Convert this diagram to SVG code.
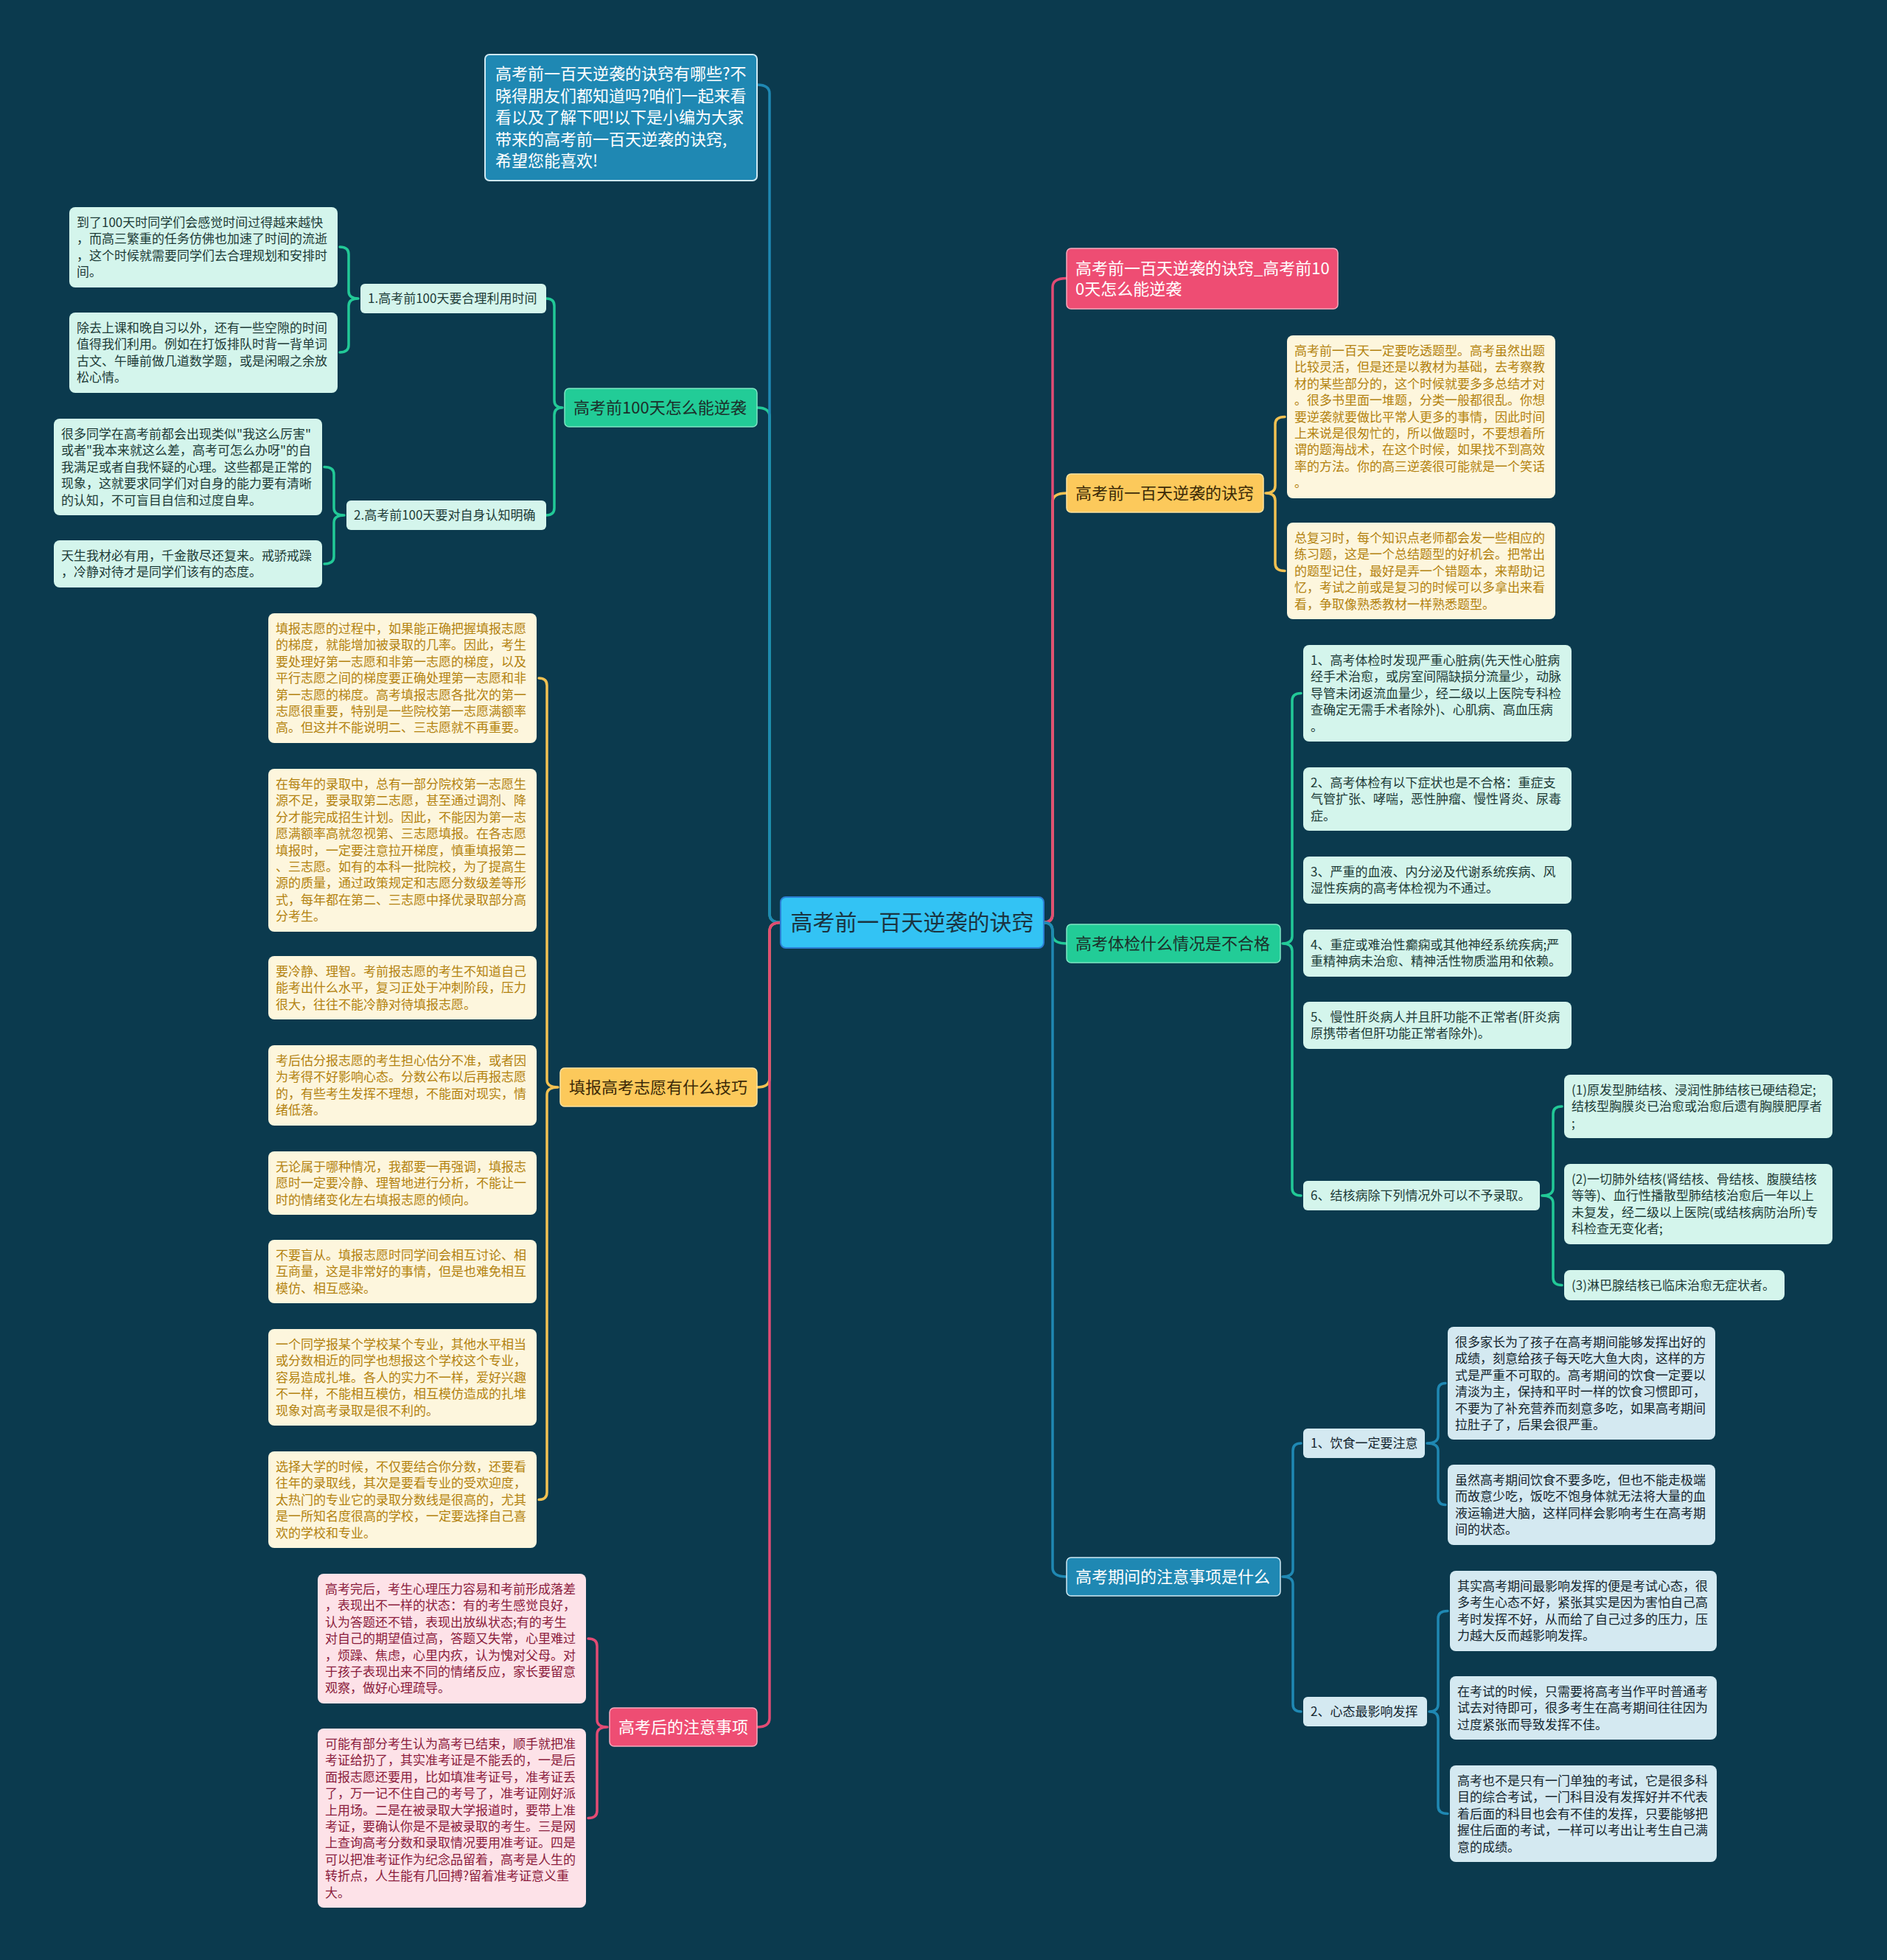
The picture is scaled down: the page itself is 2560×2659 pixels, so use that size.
<svg xmlns="http://www.w3.org/2000/svg" width="2560" height="2659" viewBox="0 0 2560 2659">
<style>
text{font-family:"Noto Sans CJK SC","Liberation Sans",sans-serif;}
.f17{font-size:17px}
.f22{font-size:22px}
.f30{font-size:30px}
.lg{fill:#d4f5ec}
.lo{fill:#fdf6dd}
.lp{fill:#fde2e8}
.lb{fill:#d4e9f1}
.tg{fill:#1d3b37}
.to{fill:#b3820f}
.tp{fill:#8b1c3c}
.tb{fill:#15262f}
.tw{fill:#ffffff}
.td{fill:#1c2f2a}
.c{fill:none;stroke-width:3.5;stroke-linecap:round;stroke-linejoin:round}
.cb{stroke:#1f88b3}
.cg{stroke:#22c997}
.cy{stroke:#f2c152}
.cp{stroke:#e24b74}
</style>
<rect x="0" y="0" width="2560" height="2659" fill="#0b3a4e"/>

<g id="connectors">
<path class="c cg" d="M1059,1251.5 Q1044,1251.5 1044,1239.5 L1044,565 Q1044,553 1027,553"/>
<path class="c cy" d="M1059,1251.5 Q1044,1251.5 1044,1263.5 L1044,1463 Q1044,1475 1027,1475"/>
<path class="c cb" d="M1059,1251.5 Q1044,1251.5 1044,1239.5 L1044,127 Q1044,115 1027,115"/>
<path class="c cp" d="M1059,1251.5 Q1044,1251.5 1044,1263.5 L1044,2331 Q1044,2343 1027,2343"/>
<path class="c cy" d="M1416,1251.5 Q1428,1251.5 1428,1239.5 L1428,681 Q1428,669 1447,669"/>
<path class="c cg" d="M1416,1251.5 Q1428,1251.5 1428,1263.5 L1428,1268 Q1428,1280 1447,1280"/>
<path class="c cp" d="M1416,1251.5 Q1428,1251.5 1428,1239.5 L1428,389.5 Q1428,377.5 1447,377.5"/>
<path class="c cb" d="M1416,1251.5 Q1428,1251.5 1428,1263.5 L1428,2127 Q1428,2139 1447,2139"/>
<path class="c cg" d="M741,405 Q752,405 752,415 L752,543 Q752,553 763,553 Q752,553 752,563 L752,689 Q752,699 741,699"/>
<path class="c cg" d="M461,335 Q473,335 473,345 L473,395 Q473,405 486,405 Q473,405 473,415 L473,468 Q473,478 461,478"/>
<path class="c cg" d="M440,633.5 Q453,633.5 453,643.5 L453,689 Q453,699 467,699 Q453,699 453,709 L453,755 Q453,765 440,765"/>
<path class="c cy" d="M731,920 Q742,920 742,930 L742,1465 Q742,1475 757,1475 Q742,1475 742,1485 L742,2024.5 Q742,2034.5 731,2034.5"/>
<path class="c cp" d="M798,2223 Q810,2223 810,2233 L810,2333 Q810,2343 824,2343 Q810,2343 810,2353 L810,2456.5 Q810,2466.5 798,2466.5"/>
<path class="c cy" d="M1743,565.5 Q1730,565.5 1730,575.5 L1730,659 Q1730,669 1717,669 Q1730,669 1730,679 L1730,764.5 Q1730,774.5 1743,774.5"/>
<path class="c cg" d="M1765,940.5 Q1753,940.5 1753,950.5 L1753,1270 Q1753,1280 1740,1280 Q1753,1280 1753,1290 L1753,1612 Q1753,1622 1765,1622"/>
<path class="c cg" d="M2119,1501 Q2107,1501 2107,1511 L2107,1612 Q2107,1622 2092,1622 Q2107,1622 2107,1632 L2107,1733.5 Q2107,1743.5 2119,1743.5"/>
<path class="c cb" d="M1765,1958 Q1754,1958 1754,1968 L1754,2129 Q1754,2139 1740,2139 Q1754,2139 1754,2149 L1754,2312 Q1754,2322 1765,2322"/>
<path class="c cb" d="M1961,1876.5 Q1951,1876.5 1951,1886.5 L1951,1948 Q1951,1958 1936,1958 Q1951,1958 1951,1968 L1951,2031.5 Q1951,2041.5 1961,2041.5"/>
<path class="c cb" d="M1964,2185.5 Q1951,2185.5 1951,2195.5 L1951,2312 Q1951,2322 1939,2322 Q1951,2322 1951,2332 L1951,2450.5 Q1951,2460.5 1964,2460.5"/>
</g>

<g id="center">
<rect x="1059" y="1217" width="357" height="69" rx="7" fill="#33c3f4" stroke="#2b7fd4" stroke-width="2"/>
<text class="f30" x="1237.5" y="1262" text-anchor="middle" fill="#1b3441">高考前一百天逆袭的诀窍</text>
</g>

<g id="intro">
<rect x="658" y="74" width="369" height="171" rx="6" fill="#1f88b3" stroke="#cfe9f3" stroke-width="2"/>
<text class="f22 tw"><tspan x="672" y="108">高考前一百天逆袭的诀窍有哪些?不</tspan><tspan x="672" y="138">晓得朋友们都知道吗?咱们一起来看</tspan><tspan x="672" y="167">看以及了解下吧!以下是小编为大家</tspan><tspan x="672" y="197">带来的高考前一百天逆袭的诀窍,</tspan><tspan x="672" y="226">希望您能喜欢!</tspan></text>
</g>

<g id="b-left-green">
<rect x="766" y="527" width="261" height="52" rx="6" fill="#22cc97" stroke="#7ee6c4" stroke-width="1.5"/>
<text class="f22 td" x="778" y="561">高考前100天怎么能逆袭</text>
</g>
<g id="g-sub1">
<rect x="489" y="385" width="252" height="40" rx="6" class="lg"/>
<text class="f17 tg" x="499" y="411">1.高考前100天要合理利用时间</text>
</g>
<g id="g-sub2">
<rect x="470" y="679" width="271" height="40" rx="6" class="lg"/>
<text class="f17 tg" x="480" y="705">2.高考前100天要对自身认知明确</text>
</g>
<g id="gl1">
<rect x="94" y="281" width="364" height="109" rx="8" class="lg"/>
<text class="f17 tg"><tspan x="104" y="308">到了100天时同学们会感觉时间过得越来越快</tspan><tspan x="104" y="330.4">，而高三繁重的任务仿佛也加速了时间的流逝</tspan><tspan x="104" y="352.8">，这个时候就需要同学们去合理规划和安排时</tspan><tspan x="104" y="375.2">间。</tspan></text>
</g>
<g id="gl2">
<rect x="94" y="424" width="364" height="109" rx="8" class="lg"/>
<text class="f17 tg"><tspan x="104" y="451">除去上课和晚自习以外，还有一些空隙的时间</tspan><tspan x="104" y="473.4">值得我们利用。例如在打饭排队时背一背单词</tspan><tspan x="104" y="495.8">古文、午睡前做几道数学题，或是闲暇之余放</tspan><tspan x="104" y="518.2">松心情。</tspan></text>
</g>
<g id="gl3">
<rect x="73" y="568" width="364" height="131" rx="8" class="lg"/>
<text class="f17 tg"><tspan x="83" y="595">很多同学在高考前都会出现类似"我这么厉害"</tspan><tspan x="83" y="617.4">或者"我本来就这么差，高考可怎么办呀"的自</tspan><tspan x="83" y="639.8">我满足或者自我怀疑的心理。这些都是正常的</tspan><tspan x="83" y="662.2">现象，这就要求同学们对自身的能力要有清晰</tspan><tspan x="83" y="684.6">的认知，不可盲目自信和过度自卑。</tspan></text>
</g>
<g id="gl4">
<rect x="73" y="733" width="364" height="64" rx="8" class="lg"/>
<text class="f17 tg"><tspan x="83" y="760">天生我材必有用，千金散尽还复来。戒骄戒躁</tspan><tspan x="83" y="782.4">，冷静对待才是同学们该有的态度。</tspan></text>
</g>

<g id="b-left-yellow">
<rect x="760" y="1449" width="267" height="52" rx="6" fill="#fcc95b" stroke="#ffe3a0" stroke-width="1.5"/>
<text class="f22" x="772" y="1483" fill="#3b2a07">填报高考志愿有什么技巧</text>
</g>
<g id="o1">
<rect x="364" y="832" width="364" height="176" rx="8" class="lo"/>
<text class="f17 to"><tspan x="374" y="859">填报志愿的过程中，如果能正确把握填报志愿</tspan><tspan x="374" y="881.4">的梯度，就能增加被录取的几率。因此，考生</tspan><tspan x="374" y="903.8">要处理好第一志愿和非第一志愿的梯度，以及</tspan><tspan x="374" y="926.2">平行志愿之间的梯度要正确处理第一志愿和非</tspan><tspan x="374" y="948.6">第一志愿的梯度。高考填报志愿各批次的第一</tspan><tspan x="374" y="971">志愿很重要，特别是一些院校第一志愿满额率</tspan><tspan x="374" y="993.4">高。但这并不能说明二、三志愿就不再重要。</tspan></text>
</g>
<g id="o2">
<rect x="364" y="1043" width="364" height="221" rx="8" class="lo"/>
<text class="f17 to"><tspan x="374" y="1070">在每年的录取中，总有一部分院校第一志愿生</tspan><tspan x="374" y="1092.4">源不足，要录取第二志愿，甚至通过调剂、降</tspan><tspan x="374" y="1114.8">分才能完成招生计划。因此，不能因为第一志</tspan><tspan x="374" y="1137.2">愿满额率高就忽视第、三志愿填报。在各志愿</tspan><tspan x="374" y="1159.6">填报时，一定要注意拉开梯度，慎重填报第二</tspan><tspan x="374" y="1182">、三志愿。如有的本科一批院校，为了提高生</tspan><tspan x="374" y="1204.4">源的质量，通过政策规定和志愿分数级差等形</tspan><tspan x="374" y="1226.8">式，每年都在第二、三志愿中择优录取部分高</tspan><tspan x="374" y="1249.2">分考生。</tspan></text>
</g>
<g id="o3">
<rect x="364" y="1297" width="364" height="86" rx="8" class="lo"/>
<text class="f17 to"><tspan x="374" y="1324">要冷静、理智。考前报志愿的考生不知道自己</tspan><tspan x="374" y="1346.4">能考出什么水平，复习正处于冲刺阶段，压力</tspan><tspan x="374" y="1368.8">很大，往往不能冷静对待填报志愿。</tspan></text>
</g>
<g id="o4">
<rect x="364" y="1418" width="364" height="109" rx="8" class="lo"/>
<text class="f17 to"><tspan x="374" y="1445">考后估分报志愿的考生担心估分不准，或者因</tspan><tspan x="374" y="1467.4">为考得不好影响心态。分数公布以后再报志愿</tspan><tspan x="374" y="1489.8">的，有些考生发挥不理想，不能面对现实，情</tspan><tspan x="374" y="1512.2">绪低落。</tspan></text>
</g>
<g id="o5">
<rect x="364" y="1562" width="364" height="86" rx="8" class="lo"/>
<text class="f17 to"><tspan x="374" y="1589">无论属于哪种情况，我都要一再强调，填报志</tspan><tspan x="374" y="1611.4">愿时一定要冷静、理智地进行分析，不能让一</tspan><tspan x="374" y="1633.8">时的情绪变化左右填报志愿的倾向。</tspan></text>
</g>
<g id="o6">
<rect x="364" y="1682" width="364" height="86" rx="8" class="lo"/>
<text class="f17 to"><tspan x="374" y="1709">不要盲从。填报志愿时同学间会相互讨论、相</tspan><tspan x="374" y="1731.4">互商量，这是非常好的事情，但是也难免相互</tspan><tspan x="374" y="1753.8">模仿、相互感染。</tspan></text>
</g>
<g id="o7">
<rect x="364" y="1803" width="364" height="131" rx="8" class="lo"/>
<text class="f17 to"><tspan x="374" y="1830">一个同学报某个学校某个专业，其他水平相当</tspan><tspan x="374" y="1852.4">或分数相近的同学也想报这个学校这个专业，</tspan><tspan x="374" y="1874.8">容易造成扎堆。各人的实力不一样，爱好兴趣</tspan><tspan x="374" y="1897.2">不一样，不能相互模仿，相互模仿造成的扎堆</tspan><tspan x="374" y="1919.6">现象对高考录取是很不利的。</tspan></text>
</g>
<g id="o8">
<rect x="364" y="1969" width="364" height="131" rx="8" class="lo"/>
<text class="f17 to"><tspan x="374" y="1996">选择大学的时候，不仅要结合你分数，还要看</tspan><tspan x="374" y="2018.4">往年的录取线，其次是要看专业的受欢迎度，</tspan><tspan x="374" y="2040.8">太热门的专业它的录取分数线是很高的，尤其</tspan><tspan x="374" y="2063.2">是一所知名度很高的学校，一定要选择自己喜</tspan><tspan x="374" y="2085.6">欢的学校和专业。</tspan></text>
</g>

<g id="b-left-pink">
<rect x="827" y="2317" width="200" height="52" rx="6" fill="#ee4d73" stroke="#f7a9bd" stroke-width="1.5"/>
<text class="f22 tw" x="839" y="2351">高考后的注意事项</text>
</g>
<g id="p1">
<rect x="431" y="2135" width="364" height="176" rx="8" class="lp"/>
<text class="f17 tp"><tspan x="441" y="2162">高考完后，考生心理压力容易和考前形成落差</tspan><tspan x="441" y="2184.4">，表现出不一样的状态：有的考生感觉良好，</tspan><tspan x="441" y="2206.8">认为答题还不错，表现出放纵状态;有的考生</tspan><tspan x="441" y="2229.2">对自己的期望值过高，答题又失常，心里难过</tspan><tspan x="441" y="2251.6">，烦躁、焦虑，心里内疚，认为愧对父母。对</tspan><tspan x="441" y="2274">于孩子表现出来不同的情绪反应，家长要留意</tspan><tspan x="441" y="2296.4">观察，做好心理疏导。</tspan></text>
</g>
<g id="p2">
<rect x="431" y="2345" width="364" height="243" rx="8" class="lp"/>
<text class="f17 tp"><tspan x="441" y="2372">可能有部分考生认为高考已结束，顺手就把准</tspan><tspan x="441" y="2394.4">考证给扔了，其实准考证是不能丢的，一是后</tspan><tspan x="441" y="2416.8">面报志愿还要用，比如填准考证号，准考证丢</tspan><tspan x="441" y="2439.2">了，万一记不住自己的考号了，准考证刚好派</tspan><tspan x="441" y="2461.6">上用场。二是在被录取大学报道时，要带上准</tspan><tspan x="441" y="2484">考证，要确认你是不是被录取的考生。三是网</tspan><tspan x="441" y="2506.4">上查询高考分数和录取情况要用准考证。四是</tspan><tspan x="441" y="2528.8">可以把准考证作为纪念品留着，高考是人生的</tspan><tspan x="441" y="2551.2">转折点，人生能有几回搏?留着准考证意义重</tspan><tspan x="441" y="2573.6">大。</tspan></text>
</g>

<g id="b-right-pink">
<rect x="1447" y="337" width="368" height="82" rx="6" fill="#ee4d73" stroke="#f7a9bd" stroke-width="1.5"/>
<text class="f22 tw"><tspan x="1459" y="372">高考前一百天逆袭的诀窍_高考前10</tspan><tspan x="1459" y="400">0天怎么能逆袭</tspan></text>
</g>

<g id="b-right-yellow">
<rect x="1447" y="643" width="267" height="52" rx="6" fill="#fcc95b" stroke="#ffe3a0" stroke-width="1.5"/>
<text class="f22" x="1459" y="677" fill="#3b2a07">高考前一百天逆袭的诀窍</text>
</g>
<g id="y1">
<rect x="1746" y="455" width="364" height="221" rx="8" class="lo"/>
<text class="f17 to"><tspan x="1756" y="482">高考前一百天一定要吃透题型。高考虽然出题</tspan><tspan x="1756" y="504.4">比较灵活，但是还是以教材为基础，去考察教</tspan><tspan x="1756" y="526.8">材的某些部分的，这个时候就要多多总结才对</tspan><tspan x="1756" y="549.2">。很多书里面一堆题，分类一般都很乱。你想</tspan><tspan x="1756" y="571.6">要逆袭就要做比平常人更多的事情，因此时间</tspan><tspan x="1756" y="594">上来说是很匆忙的，所以做题时，不要想着所</tspan><tspan x="1756" y="616.4">谓的题海战术，在这个时候，如果找不到高效</tspan><tspan x="1756" y="638.8">率的方法。你的高三逆袭很可能就是一个笑话</tspan><tspan x="1756" y="661.2">。</tspan></text>
</g>
<g id="y2">
<rect x="1746" y="709" width="364" height="131" rx="8" class="lo"/>
<text class="f17 to"><tspan x="1756" y="736">总复习时，每个知识点老师都会发一些相应的</tspan><tspan x="1756" y="758.4">练习题，这是一个总结题型的好机会。把常出</tspan><tspan x="1756" y="780.8">的题型记住，最好是弄一个错题本，来帮助记</tspan><tspan x="1756" y="803.2">忆，考试之前或是复习的时候可以多拿出来看</tspan><tspan x="1756" y="825.6">看，争取像熟悉教材一样熟悉题型。</tspan></text>
</g>

<g id="b-right-green">
<rect x="1447" y="1254" width="290" height="52" rx="6" fill="#22cc97" stroke="#7ee6c4" stroke-width="1.5"/>
<text class="f22 td" x="1459" y="1288">高考体检什么情况是不合格</text>
</g>
<g id="g1">
<rect x="1768" y="875" width="364" height="131" rx="8" class="lg"/>
<text class="f17 tg"><tspan x="1778" y="902">1、高考体检时发现严重心脏病(先天性心脏病</tspan><tspan x="1778" y="924.4">经手术治愈，或房室间隔缺损分流量少，动脉</tspan><tspan x="1778" y="946.8">导管未闭返流血量少，经二级以上医院专科检</tspan><tspan x="1778" y="969.2">查确定无需手术者除外)、心肌病、高血压病</tspan><tspan x="1778" y="991.6">。</tspan></text>
</g>
<g id="g2">
<rect x="1768" y="1041" width="364" height="86" rx="8" class="lg"/>
<text class="f17 tg"><tspan x="1778" y="1068">2、高考体检有以下症状也是不合格：重症支</tspan><tspan x="1778" y="1090.4">气管扩张、哮喘，恶性肿瘤、慢性肾炎、尿毒</tspan><tspan x="1778" y="1112.8">症。</tspan></text>
</g>
<g id="g3">
<rect x="1768" y="1162" width="364" height="64" rx="8" class="lg"/>
<text class="f17 tg"><tspan x="1778" y="1189">3、严重的血液、内分泌及代谢系统疾病、风</tspan><tspan x="1778" y="1211.4">湿性疾病的高考体检视为不通过。</tspan></text>
</g>
<g id="g4">
<rect x="1768" y="1261" width="364" height="64" rx="8" class="lg"/>
<text class="f17 tg"><tspan x="1778" y="1288">4、重症或难治性癫痫或其他神经系统疾病;严</tspan><tspan x="1778" y="1310.4">重精神病未治愈、精神活性物质滥用和依赖。</tspan></text>
</g>
<g id="g5">
<rect x="1768" y="1359" width="364" height="64" rx="8" class="lg"/>
<text class="f17 tg"><tspan x="1778" y="1386">5、慢性肝炎病人并且肝功能不正常者(肝炎病</tspan><tspan x="1778" y="1408.4">原携带者但肝功能正常者除外)。</tspan></text>
</g>
<g id="g6">
<rect x="1768" y="1602" width="321" height="40" rx="6" class="lg"/>
<text class="f17 tg" x="1778" y="1628">6、结核病除下列情况外可以不予录取。</text>
</g>
<g id="s1">
<rect x="2122" y="1458" width="364" height="86" rx="8" class="lg"/>
<text class="f17 tg"><tspan x="2132" y="1485">(1)原发型肺结核、浸润性肺结核已硬结稳定;</tspan><tspan x="2132" y="1507.4">结核型胸膜炎已治愈或治愈后遗有胸膜肥厚者</tspan><tspan x="2132" y="1529.8">;</tspan></text>
</g>
<g id="s2">
<rect x="2122" y="1579" width="364" height="109" rx="8" class="lg"/>
<text class="f17 tg"><tspan x="2132" y="1606">(2)一切肺外结核(肾结核、骨结核、腹膜结核</tspan><tspan x="2132" y="1628.4">等等)、血行性播散型肺结核治愈后一年以上</tspan><tspan x="2132" y="1650.8">未复发，经二级以上医院(或结核病防治所)专</tspan><tspan x="2132" y="1673.2">科检查无变化者;</tspan></text>
</g>
<g id="s3">
<rect x="2122" y="1723" width="299" height="41" rx="8" class="lg"/>
<text class="f17 tg" x="2132" y="1750">(3)淋巴腺结核已临床治愈无症状者。</text>
</g>

<g id="b-right-blue">
<rect x="1447" y="2113" width="290" height="52" rx="6" fill="#1f88b3" stroke="#cfe9f3" stroke-width="1.5"/>
<text class="f22 tw" x="1459" y="2147">高考期间的注意事项是什么</text>
</g>
<g id="bsub1">
<rect x="1768" y="1938" width="165" height="40" rx="6" class="lb"/>
<text class="f17 tb" x="1778" y="1964">1、饮食一定要注意</text>
</g>
<g id="bsub2">
<rect x="1768" y="2302" width="168" height="40" rx="6" class="lb"/>
<text class="f17 tb" x="1778" y="2328">2、心态最影响发挥</text>
</g>
<g id="b1">
<rect x="1964" y="1800" width="363" height="153" rx="8" class="lb"/>
<text class="f17 tb"><tspan x="1974" y="1827">很多家长为了孩子在高考期间能够发挥出好的</tspan><tspan x="1974" y="1849.4">成绩，刻意给孩子每天吃大鱼大肉，这样的方</tspan><tspan x="1974" y="1871.8">式是严重不可取的。高考期间的饮食一定要以</tspan><tspan x="1974" y="1894.2">清淡为主，保持和平时一样的饮食习惯即可，</tspan><tspan x="1974" y="1916.6">不要为了补充营养而刻意多吃，如果高考期间</tspan><tspan x="1974" y="1939">拉肚子了，后果会很严重。</tspan></text>
</g>
<g id="b2">
<rect x="1964" y="1987" width="363" height="109" rx="8" class="lb"/>
<text class="f17 tb"><tspan x="1974" y="2014">虽然高考期间饮食不要多吃，但也不能走极端</tspan><tspan x="1974" y="2036.4">而故意少吃，饭吃不饱身体就无法将大量的血</tspan><tspan x="1974" y="2058.8">液运输进大脑，这样同样会影响考生在高考期</tspan><tspan x="1974" y="2081.2">间的状态。</tspan></text>
</g>
<g id="c1">
<rect x="1967" y="2131" width="362" height="109" rx="8" class="lb"/>
<text class="f17 tb"><tspan x="1977" y="2158">其实高考期间最影响发挥的便是考试心态，很</tspan><tspan x="1977" y="2180.4">多考生心态不好，紧张其实是因为害怕自己高</tspan><tspan x="1977" y="2202.8">考时发挥不好，从而给了自己过多的压力，压</tspan><tspan x="1977" y="2225.2">力越大反而越影响发挥。</tspan></text>
</g>
<g id="c2">
<rect x="1967" y="2274" width="362" height="86" rx="8" class="lb"/>
<text class="f17 tb"><tspan x="1977" y="2301">在考试的时候，只需要将高考当作平时普通考</tspan><tspan x="1977" y="2323.4">试去对待即可，很多考生在高考期间往往因为</tspan><tspan x="1977" y="2345.8">过度紧张而导致发挥不佳。</tspan></text>
</g>
<g id="c3">
<rect x="1967" y="2395" width="362" height="131" rx="8" class="lb"/>
<text class="f17 tb"><tspan x="1977" y="2422">高考也不是只有一门单独的考试，它是很多科</tspan><tspan x="1977" y="2444.4">目的综合考试，一门科目没有发挥好并不代表</tspan><tspan x="1977" y="2466.8">着后面的科目也会有不佳的发挥，只要能够把</tspan><tspan x="1977" y="2489.2">握住后面的考试，一样可以考出让考生自己满</tspan><tspan x="1977" y="2511.6">意的成绩。</tspan></text>
</g>
</svg>
